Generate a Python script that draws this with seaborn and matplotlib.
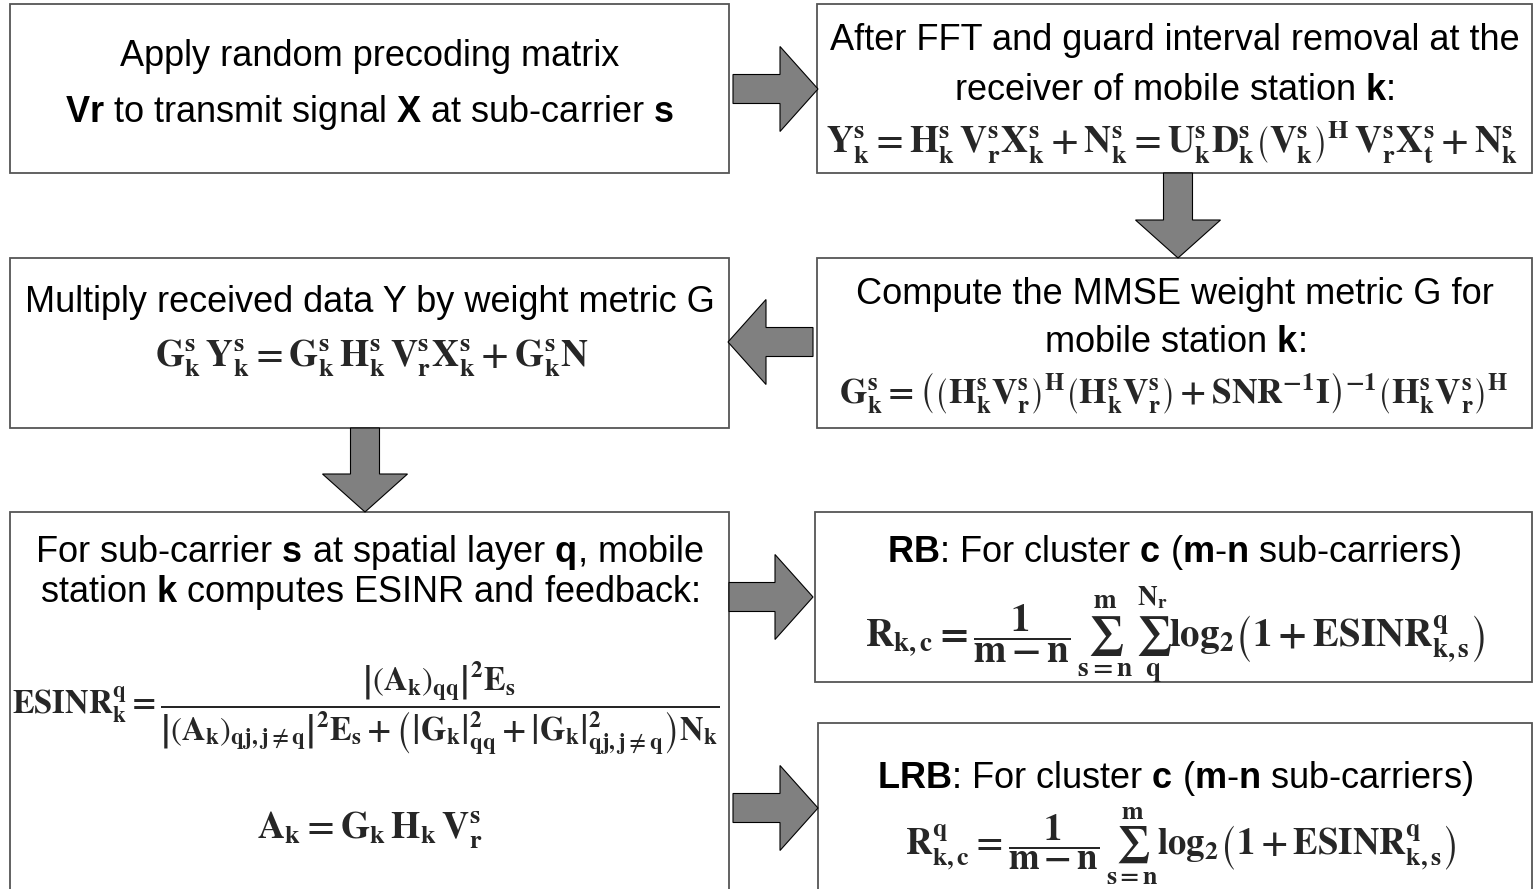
import matplotlib
matplotlib.use("Agg")
import matplotlib.pyplot as plt
import seaborn as sns
from matplotlib.patches import Rectangle, Polygon

sns.set_theme(style="white")
plt.rcParams['font.family'] = ['Liberation Sans', 'DejaVu Sans']
plt.rcParams['mathtext.fontset'] = 'custom'
plt.rcParams['mathtext.rm'] = 'Liberation Sans'
plt.rcParams['mathtext.bf'] = 'Liberation Sans:bold'
plt.rcParams['mathtext.it'] = 'Liberation Sans:italic'

# text of each block (plain text lines, bold parts in $\mathbf{}$)
box_labels = [
    ["Apply random precoding matrix",
     r"$\mathbf{Vr}$ to transmit signal $\mathbf{X}$ at sub-carrier $\mathbf{s}$"],
    ["After FFT and guard interval removal at the",
     r"receiver of mobile station $\mathbf{k}$:"],
    ["Multiply received data Y by weight metric G"],
    ["Compute the MMSE weight metric G for",
     r"mobile station $\mathbf{k}$:"],
    [r"For sub-carrier $\mathbf{s}$ at spatial layer $\mathbf{q}$, mobile",
     r"station $\mathbf{k}$ computes ESINR and feedback:"],
    [r"$\mathbf{RB}$: For cluster $\mathbf{c}$ ($\mathbf{m}$-$\mathbf{n}$ sub-carriers)"],
    [r"$\mathbf{LRB}$: For cluster $\mathbf{c}$ ($\mathbf{m}$-$\mathbf{n}$ sub-carriers)"],
]

box_equations = [
    [],
    [r"$\mathbf{Y_k^s = H_k^s\,V_r^s X_k^s + N_k^s = U_k^s D_k^s \left(V_k^s\right)^H\, V_r^s X_t^s + N_k^s}$"],
    [r"$\mathbf{G_k^s\, Y_k^s = G_k^s\, H_k^s\, V_r^s X_k^s + G_k^s N}$"],
    [r"$\mathbf{G_k^s = \left(\left(H_k^s V_r^s\right)^H \left(H_k^s V_r^s\right) + SNR^{-1} I\right)^{-1} \left(H_k^s V_r^s\right)^H}$"],
    [r"$\mathbf{ESINR_k^q = \dfrac{\left|\left(A_k\right)_{qq}\right|^2 E_s}{\left|\left(A_k\right)_{qj,j\neq q}\right|^2 E_s + \left(\left|G_k\right|_{qq}^2 + \left|G_k\right|_{qj,j\neq q}^2\right) N_k}}$",
     r"$\mathbf{A_k = G_k\, H_k\, V_r^s}$"],
    [r"$\mathbf{R_{k,c} = \dfrac{1}{m - n}\, \sum_{s=n}^{m}\, \sum_{q}^{N_r} log_2 \left(1 + ESINR_{k,s}^q\right)}$"],
    [r"$\mathbf{R_{k,c}^q = \dfrac{1}{m - n}\, \sum_{s=n}^{m} log_2 \left(1 + ESINR_{k,s}^q\right)}$"],
]

# layout in pixels: box (x, y, w, h), label rows, equation rows
box_rects = [(10, 4, 719, 169), (817, 4, 715, 169), (10, 258, 719, 170),
             (817, 258, 715, 170), (10, 512, 719, 400), (815, 512, 717, 170),
             (818, 723, 714, 190)]
label_rows = [[56, 113], [40, 90], [302], [295, 343], [552, 593], [553], [778]]
eq_rows = [[], [142], [358], [393], [708, 830], [635], [846]]
eq_x = [None, 1172, 372, 1174, 370, 1175, 1180]
eq_size = [27, 27, 27, 25.5, 27, 28, 26.5]

# arrows: (x0, y0, x1, y1)
arrows = [(733, 89, 818, 89), (1178, 173, 1178, 258), (813, 342, 728, 342),
          (365, 428, 365, 512), (729, 597, 813, 597), (733, 808, 818, 808)]


def arrow_poly(x0, y0, x1, y1, shaft=29, head=85, head_len=38):
    dx, dy = x1 - x0, y1 - y0
    L = (dx ** 2 + dy ** 2) ** 0.5
    ux, uy = dx / L, dy / L
    px, py = -uy, ux
    bx, by = x1 - ux * head_len, y1 - uy * head_len
    pts = [
        (x0 + px * shaft / 2, y0 + py * shaft / 2),
        (bx + px * shaft / 2, by + py * shaft / 2),
        (bx + px * head / 2, by + py * head / 2),
        (x1, y1),
        (bx - px * head / 2, by - py * head / 2),
        (bx - px * shaft / 2, by - py * shaft / 2),
        (x0 - px * shaft / 2, y0 - py * shaft / 2),
    ]
    return pts


fig = plt.figure(figsize=(15.33, 8.89), dpi=100)
ax = fig.add_axes([0, 0, 1, 1])
ax.set_xlim(0, 1533)
ax.set_ylim(889, 0)
ax.axis("off")

for (x, y, w, h) in box_rects:
    ax.add_patch(Rectangle((x, y), w, h, facecolor="white", edgecolor="#555555",
                           lw=1.3, zorder=1))

for (x0, y0, x1, y1) in arrows:
    ax.add_patch(Polygon(arrow_poly(x0, y0, x1, y1), closed=True,
                         facecolor="#808080", edgecolor="black", lw=0.8, zorder=3))

for i, lines in enumerate(box_labels):
    x, y, w, h = box_rects[i]
    cx = x + w / 2
    for line, yy in zip(lines, label_rows[i]):
        ax.text(cx, yy, line, ha="center", va="center", fontsize=26,
                color="black", math_fontfamily="custom", zorder=4)

for i, eqs in enumerate(box_equations):
    for j, (eq, yy) in enumerate(zip(eqs, eq_rows[i])):
        if i == 4 and j == 0:
            ax.text(12, yy, eq, ha="left", va="center", fontsize=23.5,
                    math_fontfamily="stix", zorder=4)
        else:
            ax.text(eq_x[i], yy, eq, ha="center", va="center", fontsize=eq_size[i],
                    math_fontfamily="stix", zorder=4)

fig.savefig("out.png", dpi=100)
